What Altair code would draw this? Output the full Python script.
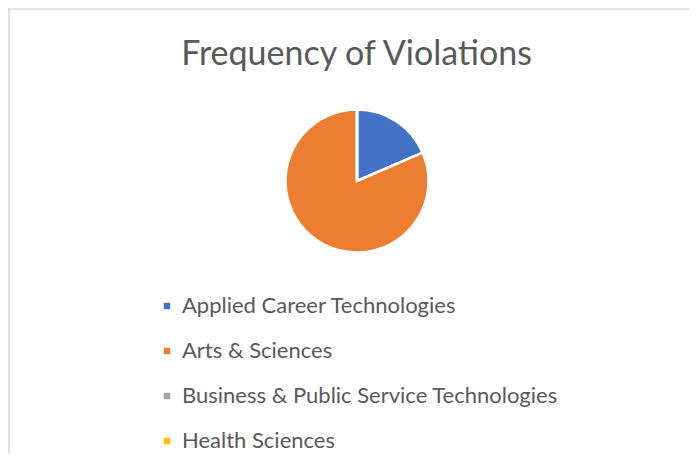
import altair as alt
import pandas as pd

# ---- data ----
categories = [
    "Applied Career Technologies",
    "Arts & Sciences",
    "Business & Public Service Technologies",
    "Health Sciences",
]
violations = [5, 22, 0, 0]
slice_order = [0, 1, 2, 3]
colors = ["#4472C4", "#ED7D31", "#A5A5A5", "#FFC000"]
title_text = "Frequency of Violations"

df = pd.DataFrame({"college": categories, "count": violations, "idx": slice_order})

W, H = 681, 445
FONT = "Lato"
TEXT_COLOR = "#595959"
FRAME_COLOR = "#D9D9D9"

pie = alt.Chart(df).mark_arc(
    outerRadius=71.5, stroke="white", strokeWidth=2.5, x=349, y=173
).encode(
    theta=alt.Theta("count:Q", stack=True),
    order=alt.Order("idx:Q", sort="ascending"),
    color=alt.Color(
        "college:N",
        scale=alt.Scale(domain=categories, range=colors),
        legend=alt.Legend(
            orient="none",
            legendX=148,
            legendY=287,
            title=None,
            symbolType="square",
            symbolSize=42,
            symbolStrokeWidth=0,
            labelFontSize=22,
            labelFont=FONT,
            labelColor=TEXT_COLOR,
            labelOffset=4,
            rowPadding=23,
            padding=0,
            labelLimit=600,
        ),
    ),
)

frame_df = pd.DataFrame({"dummy": [0]})
top_line = alt.Chart(frame_df).mark_rule(color=FRAME_COLOR, strokeWidth=1.6).encode(
    x=alt.value(0), x2=alt.value(W + 20), y=alt.value(1)
)
left_line = alt.Chart(frame_df).mark_rule(color=FRAME_COLOR, strokeWidth=1.6).encode(
    x=alt.value(1), y=alt.value(0), y2=alt.value(H + 20)
)

chart = alt.layer(top_line, left_line, pie).properties(
    width=W,
    height=H,
    padding={"left": 0, "top": 0, "right": 0, "bottom": 0},
    autosize=alt.AutoSizeParams(type="none"),
    title=alt.TitleParams(
        title_text,
        font=FONT,
        fontSize=34,
        fontWeight="normal",
        color=TEXT_COLOR,
        anchor="middle",
        dx=8,
        dy=69,
    ),
).configure_view(strokeWidth=0, stroke=None)

chart.save("out.html", embed_options={"renderer": "svg", "actions": False})
